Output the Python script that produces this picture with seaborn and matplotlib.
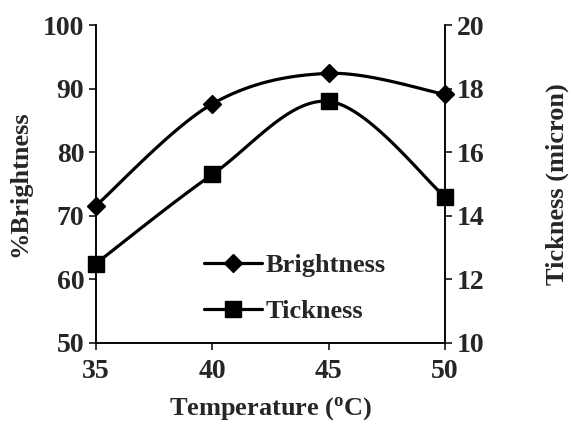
import numpy as np
import pandas as pd
import matplotlib
matplotlib.use("Agg")
import matplotlib.pyplot as plt
from matplotlib.lines import Line2D
import seaborn as sns

# data
temperature = [35, 40, 45, 50]
brightness = [71.6, 87.6, 92.4, 89.1]
tickness = [12.5, 15.3, 17.6, 14.6]


def smooth(x, y, n=40):
    # excel-like smoothed line (catmull-rom bezier through the points)
    x = np.asarray(x, float)
    y = np.asarray(y, float)
    px = np.concatenate([[x[0]], x, [x[-1]]])
    py = np.concatenate([[y[0]], y, [y[-1]]])
    xs, ys = [], []
    t = np.linspace(0, 1, n)
    for i in range(1, len(px) - 2):
        p0 = np.array([px[i], py[i]])
        p3 = np.array([px[i + 1], py[i + 1]])
        c1 = p0 + (p3 - np.array([px[i - 1], py[i - 1]])) / 6
        c2 = p3 - (np.array([px[i + 2], py[i + 2]]) - p0) / 6
        b = ((1 - t) ** 3)[:, None] * p0 + (3 * (1 - t) ** 2 * t)[:, None] * c1 \
            + (3 * (1 - t) * t ** 2)[:, None] * c2 + (t ** 3)[:, None] * p3
        xs.extend(b[:, 0])
        ys.extend(b[:, 1])
    return pd.DataFrame({"x": xs, "y": ys})


sns.set_style("ticks")
plt.rcParams["font.family"] = ["Liberation Serif", "DejaVu Serif"]
plt.rcParams["font.weight"] = "bold"
plt.rcParams["mathtext.fontset"] = "custom"
plt.rcParams["mathtext.rm"] = "Liberation Serif:bold"
plt.rcParams["mathtext.it"] = "Liberation Serif:bold"
plt.rcParams["mathtext.bf"] = "Liberation Serif:bold"

fs_tick = 20
fs_lab = 19
fs_leg = 19
lw = 2.3

fig = plt.figure(figsize=(5.73, 4.25), dpi=100)
ax = fig.add_axes([0.1675, 0.193, 0.609, 0.748])
ax2 = ax.twinx()

sb = smooth(temperature, brightness)
st = smooth(temperature, tickness)
sns.lineplot(data=sb, x="x", y="y", sort=False, ax=ax, color="black", lw=lw)
sns.lineplot(data=st, x="x", y="y", sort=False, ax=ax2, color="black", lw=lw)
ax.plot(temperature, brightness, ls="none", marker="D", ms=9, color="black", clip_on=False)
ax2.plot(temperature, tickness, ls="none", marker="s", ms=12, color="black", clip_on=False)

ax.set_xlim(35, 50)
ax.set_ylim(50, 100)
ax2.set_ylim(10, 20)
ax.set_xticks([35, 40, 45, 50])
ax.set_yticks(range(50, 101, 10))
ax2.set_yticks(range(10, 21, 2))

for a in (ax, ax2):
    a.spines["top"].set_visible(False)
    for s in a.spines.values():
        s.set_linewidth(1.1)
        s.set_color("black")
    a.tick_params(direction="out", length=5, width=1.1, labelsize=fs_tick, color="black")
    for lab in a.get_xticklabels() + a.get_yticklabels():
        lab.set_fontweight("bold")
ax.tick_params(axis="x", pad=6.5)

ax.set_xlabel(r"Temperature ($^{\rm o}$C)", fontsize=fs_lab, fontweight="bold", labelpad=8)
ax.set_ylabel("%Brightness", fontsize=fs_lab, fontweight="bold", labelpad=8)
ax2.set_ylabel("Tickness (micron)", fontsize=fs_lab, fontweight="bold", labelpad=44)

handles = [
    Line2D([], [], color="black", lw=lw, marker="D", ms=9),
    Line2D([], [], color="black", lw=lw, marker="s", ms=12),
]
leg = ax2.legend(handles, ["Brightness", "Tickness"], frameon=False,
                 loc="center left", bbox_to_anchor=(0.273, 0.172), borderpad=0,
                 handlelength=2.2, handletextpad=0.1, labelspacing=0.85,
                 prop={"size": fs_leg, "weight": "bold"})

fig.savefig("out.png", dpi=100)
